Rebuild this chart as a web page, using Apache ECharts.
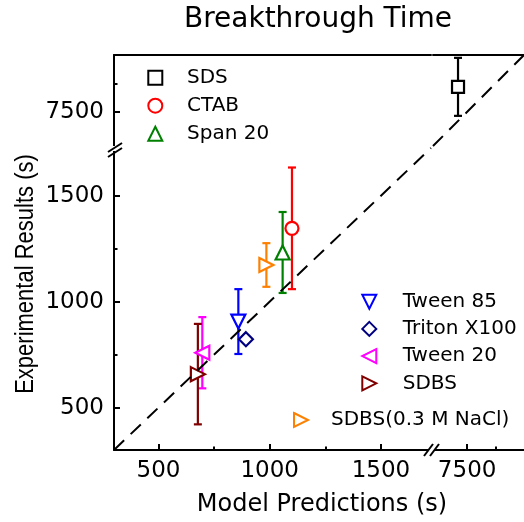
<!DOCTYPE html>
<html><head><meta charset="utf-8">
<script src="https://cdn.jsdelivr.net/npm/echarts@6/dist/echarts.min.js"></script>
<style>html,body{margin:0;padding:0;background:#fff}#c{width:524px;height:522px}</style>
</head><body><div id="c"></div>
<script>
// ---- data ----
const seriesNames = ['SDS', 'CTAB', 'Span 20', 'Tween 85', 'Triton X100', 'Tween 20', 'SDBS', 'SDBS(0.3 M NaCl)'];
const predicted   = [7420, 1100, 1058, 859, 893, 697, 677, 985];
const measured    = [7720, 1346, 1232, 906, 823, 759, 658, 1173];
const errors      = [255, 287, 191, 153, 0, 168, 237, 103];
const lowRange  = [300, 1725];
const highRange = [7200, 8000];
const lowMajorTicks  = [500, 1000, 1500];
const lowMinorTicks  = [750, 1250];
const highMajorTicks = [7500];
const highMinorTicks = [7750];
const titleText = 'Breakthrough Time';
const xTitle = 'Model Predictions (s)';
const yTitle = 'Experimental Results (s)';

// ---- styles ----
const TRI_UP = 'path://M5,0L10,10L0,10Z';
const TRI_DOWN = 'path://M0,0L10,0L5,10Z';
const TRI_LEFT = 'path://M10,0L10,10L0,5Z';
const TRI_RIGHT = 'path://M0,0L10,5L0,10Z';
const colors  = ['#000000', '#ff0000', '#008000', '#0000ff', '#000080', '#ff00ff', '#800000', '#ff8000'];
const symbols = ['rect', 'circle', TRI_UP, TRI_DOWN, 'diamond', TRI_LEFT, TRI_RIGHT, TRI_RIGHT];
const sizes   = [12, 13, 14, 14, 14, 14, 14, 14];
const FONT = 'DejaVu Sans';
const axisLineStyle = {color: '#000', width: 2};
const labelStyle = {fontFamily: FONT, fontSize: 23, color: '#000'};

const chart = echarts.init(document.getElementById('c'), null, {renderer: 'canvas'});

// grids: 0 = lower-left, 1 = upper-right, 2 = upper-left, 3 = lower-right
const grids = [
  {left: 114, top: 148, width: 317, height: 302},
  {left: 433, top: 55, width: 96, height: 91},
  {left: 114, top: 55, width: 317, height: 91},
  {left: 433, top: 148, width: 96, height: 302}
];

function axis(gridIndex, position, range, opts) {
  return Object.assign({
    type: 'value', gridIndex: gridIndex, position: position,
    min: range[0], max: range[1],
    axisLine: {show: false, onZero: false, lineStyle: axisLineStyle},
    axisTick: {show: false},
    axisLabel: {show: false},
    splitLine: {show: false}
  }, opts);
}
function majorAxis(g, pos, range, ticks) {
  return axis(g, pos, range, {
    axisLine: {show: true, onZero: false, lineStyle: axisLineStyle},
    axisTick: {show: true, inside: true, length: 6, customValues: ticks, lineStyle: {color: '#000', width: 2}},
    axisLabel: Object.assign({show: true, customValues: ticks, margin: 10, formatter: function (v) { return String(v); }}, labelStyle)
  });
}
function minorAxis(g, pos, range, ticks) {
  return axis(g, pos, range, {
    axisTick: {show: true, inside: true, length: 3.5, customValues: ticks, lineStyle: {color: '#000', width: 2}}
  });
}
function lineOnly(g, pos, range) {
  return axis(g, pos, range, {axisLine: {show: true, onZero: false, lineStyle: axisLineStyle}});
}

const xAxes = [
  majorAxis(0, 'bottom', lowRange, lowMajorTicks),   // 0
  minorAxis(0, 'bottom', lowRange, lowMinorTicks),   // 1
  lineOnly(1, 'top', highRange),                      // 2
  lineOnly(2, 'top', lowRange),                       // 3
  majorAxis(3, 'bottom', highRange, highMajorTicks), // 4
  minorAxis(3, 'bottom', highRange, highMinorTicks)  // 5
];
const yAxes = [
  majorAxis(0, 'left', lowRange, lowMajorTicks),     // 0
  minorAxis(0, 'left', lowRange, lowMinorTicks),     // 1
  axis(1, 'left', highRange, {}),                    // 2
  majorAxis(2, 'left', highRange, highMajorTicks),   // 3
  minorAxis(2, 'left', highRange, highMinorTicks),   // 4
  axis(3, 'left', lowRange, {})                      // 5
];

const series = [];
// error bars
function errSeries(xi, yi, idxs) {
  return {
    type: 'custom', xAxisIndex: xi, yAxisIndex: yi, z: 2, silent: true,
    data: idxs.map(i => [predicted[i], measured[i], errors[i], i]),
    renderItem: function (params, api) {
      const x = api.value(0), y = api.value(1), e = api.value(2), ci = api.value(3);
      if (!e) return null;
      const top = api.coord([x, y + e]);
      const bot = api.coord([x, y - e]);
      const st = {stroke: colors[ci], lineWidth: 2.2};
      return {type: 'group', children: [
        {type: 'line', shape: {x1: top[0], y1: top[1], x2: bot[0], y2: bot[1]}, style: st},
        {type: 'line', shape: {x1: top[0] - 4, y1: top[1], x2: top[0] + 4, y2: top[1]}, style: st},
        {type: 'line', shape: {x1: bot[0] - 4, y1: bot[1], x2: bot[0] + 4, y2: bot[1]}, style: st}
      ]};
    }
  };
}
series.push(errSeries(2, 2, [0]));
series.push(errSeries(0, 0, [1, 2, 3, 4, 5, 6, 7]));

seriesNames.forEach(function (name, i) {
  const high = i === 0;
  series.push({
    type: 'scatter', name: name,
    xAxisIndex: high ? 2 : 0, yAxisIndex: high ? 2 : 0,
    data: [[predicted[i], measured[i]]],
    symbol: symbols[i], symbolSize: sizes[i],
    itemStyle: {color: '#ffffff', borderColor: colors[i], borderWidth: 2.2, opacity: 1},
    z: 3, silent: true
  });
});

// y = x reference line in both segments
const dash = {color: '#000', width: 2, type: [14, 9]};
series.push({type: 'line', xAxisIndex: 0, yAxisIndex: 0, data: [[lowRange[0], lowRange[0]], [lowRange[1], lowRange[1]]],
  symbol: 'none', lineStyle: dash, z: 4, silent: true});
series.push({type: 'line', xAxisIndex: 2, yAxisIndex: 2, data: [[highRange[0], highRange[0]], [highRange[1], highRange[1]]],
  symbol: 'none', lineStyle: dash, z: 4, silent: true});

function legend(names, iconCenterX, firstRowY, textX, gap) {
  const s = 14;
  return {data: names, orient: 'vertical', left: iconCenterX - s / 2, top: firstRowY - 10, padding: 0,
    itemWidth: s, itemHeight: s, itemGap: gap, selectedMode: false, symbolKeepAspect: true,
    textStyle: {fontFamily: FONT, fontSize: 20, color: '#000', lineHeight: 20,
      padding: [0, 0, 0, textX - (iconCenterX + s / 2 + 5)]}};
}

const breakLine = {stroke: '#000', lineWidth: 2};
const option = {
  backgroundColor: '#fff',
  animation: false,
  grid: grids,
  xAxis: xAxes,
  yAxis: yAxes,
  series: series,
  legend: [
    legend(seriesNames.slice(0, 3), 154.3, 77.7, 186, 8),
    legend(seriesNames.slice(3, 7), 368.3, 301.7, 401.7, 7.2),
    legend(seriesNames.slice(7), 300, 420, 330, 7)
  ],
  graphic: [
    {type: 'text', x: 318, y: 6, z: 100, style: {text: titleText, font: '28px "DejaVu Sans"', fill: '#000', align: 'center', verticalAlign: 'top'}},
    {type: 'text', x: 322, y: 493, z: 100, style: {text: xTitle, font: '24px "DejaVu Sans"', fill: '#000', align: 'center', verticalAlign: 'top'}},
    {type: 'text', x: 26, y: 274, rotation: Math.PI / 2, scaleY: 1.15, z: 100, style: {text: yTitle, font: '22px "Liberation Sans"', fill: '#000', align: 'center', verticalAlign: 'middle'}},
    // y-axis break
    {type: 'rect', z: 100, shape: {x: 111, y: 146, width: 8, height: 5}, style: {fill: '#fff'}},
    {type: 'line', z: 101, shape: {x1: 108, y1: 152, x2: 122, y2: 143}, style: breakLine},
    {type: 'line', z: 101, shape: {x1: 108, y1: 157, x2: 122, y2: 148}, style: breakLine},
    // x-axis break
    {type: 'rect', z: 100, shape: {x: 429, y: 446, width: 6, height: 8}, style: {fill: '#fff'}},
    {type: 'line', z: 101, shape: {x1: 424, y1: 456, x2: 433, y2: 444}, style: breakLine},
    {type: 'line', z: 101, shape: {x1: 430, y1: 456, x2: 439, y2: 444}, style: breakLine}
  ]
};
chart.setOption(option);
</script>
</body></html>
